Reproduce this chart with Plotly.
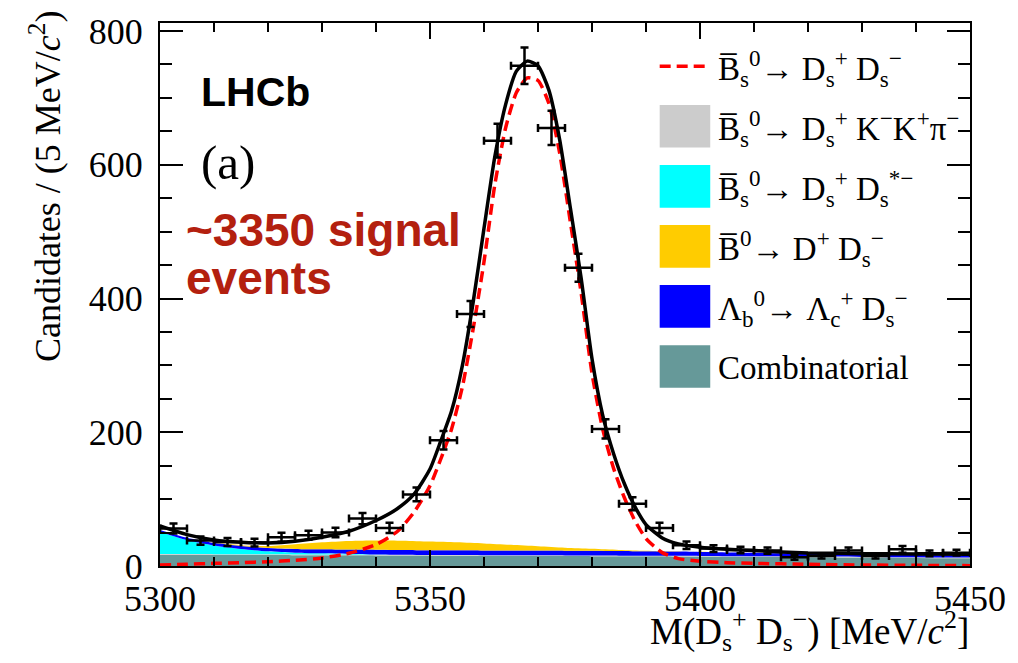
import numpy as np
import plotly.graph_objects as go

# ---- measured data: candidates per 5 MeV/c^2 bin ----
bin_centres = [5302.5, 5307.5, 5312.5, 5317.5, 5322.5, 5327.5, 5332.5, 5337.5, 5342.5, 5347.5,
               5352.5, 5357.5, 5362.5, 5367.5, 5372.5, 5377.5, 5382.5, 5387.5, 5392.5, 5397.5,
               5402.5, 5407.5, 5412.5, 5417.5, 5422.5, 5427.5, 5432.5, 5437.5, 5442.5, 5447.5]
counts = [56, 38, 36, 35, 43, 46, 50, 71, 57, 107,
          188, 377, 636, 748, 655, 446, 205, 93, 57, 31,
          26, 24, 23, 13, 15, 23, 15, 25, 19, 20]
half_bin = 2.5

# ---- fit projections ----
fit_mass = [5300, 5305, 5310, 5315, 5320, 5325, 5330, 5335, 5340, 5344, 5347, 5350, 5352, 5354,
            5356, 5358, 5360, 5362, 5364, 5366, 5368, 5370, 5372, 5374, 5376, 5378, 5380, 5382,
            5384, 5386, 5388, 5390, 5393, 5396, 5400, 5405, 5410, 5420, 5430, 5440, 5450]
fit_total = [60, 47, 39, 35.5, 34.5, 37, 43, 52, 68, 86, 107, 145, 187, 232,
             300, 395, 505, 612, 690, 740, 755, 748, 712, 638, 535, 430, 310, 225,
             168, 123, 88, 62, 42, 33, 28, 25, 23, 19.5, 18.5, 18, 17.5]
fit_signal = [1.5, 2.5, 4, 5, 6.5, 8.5, 12, 19, 32, 52, 80, 120, 160, 205,
              268, 355, 455, 570, 655, 708, 730, 726, 692, 618, 514, 408, 288, 204,
              146, 102, 67, 41, 20, 11, 7, 5, 4, 2.5, 1.5, 1, 0.5]

# background components (each component's own yield, stacked below)
bkg_mass = [5300, 5305, 5310, 5315, 5320, 5325, 5330, 5335, 5340, 5345, 5350, 5355, 5360,
            5365, 5370, 5375, 5380, 5385, 5390, 5395, 5400, 5410, 5420, 5430, 5440, 5450]
bkg_comb = [17.0, 16.9, 16.7, 16.5, 16.4, 16.2, 16.1, 16.0, 15.8, 15.7, 15.5, 15.4, 15.2,
            15.1, 15.0, 14.8, 14.7, 14.5, 14.4, 14.3, 14.1, 13.6, 13.1, 12.6, 12.1, 11.6]
bkg_dskkpi = [1.0, 1.0, 1.0, 1.0, 1.0, 1.0, 1.0, 1.0, 1.0, 1.0, 1.0, 1.0, 1.0,
              1.0, 1.0, 1.0, 1.0, 1.0, 1.0, 1.0, 1.0, 1.0, 1.0, 1.0, 1.0, 1.0]
bkg_dsstar = [33, 21, 13, 8, 4.5, 2.8, 1.8, 1.0, 0.5, 0.2, 0, 0, 0,
              0, 0, 0, 0, 0, 0, 0, 0, 0, 0, 0, 0, 0]
bkg_lambdab = [3.0, 3.5, 4.0, 4.5, 5.0, 5.5, 6.0, 6.5, 7.0, 7.0, 7.0, 7.0, 7.0,
               7.0, 7.0, 7.0, 7.0, 6.8, 6.5, 6.2, 6.0, 5.2, 4.4, 3.7, 3.2, 2.8]
bkg_bd = [0, 0, 0.3, 1.2, 3.0, 7.0, 10.5, 13.0, 14.0, 14.0, 13.0, 12.0, 10.5,
          8.5, 6.5, 4.5, 3.0, 1.8, 1.0, 0.5, 0.2, 0, 0, 0, 0, 0]

x_range = [5300, 5450]
y_range = [0, 812]
x_ticks = [5300, 5350, 5400, 5450]
y_ticks = [0, 200, 400, 600, 800]

SERIF = "Liberation Serif, Times New Roman, serif"
SANS = "Liberation Sans, Arial, sans-serif"

COL_COMB = "#669999"
COL_LB = "#0000ff"
COL_BD = "#ffcc00"
COL_DSSTAR = "#00ffff"
COL_DSKKPI = "#cccccc"
COL_TEXT = "#b3200f"

fig = go.Figure()

stack_parts = [
    (bkg_comb, COL_COMB),
    (bkg_dskkpi, COL_DSKKPI),
    (bkg_dsstar, COL_DSSTAR),
    (bkg_lambdab, COL_LB),
    (bkg_bd, COL_BD),
]
for vals, col in stack_parts:
    fig.add_trace(go.Scatter(
        x=bkg_mass, y=vals, mode="lines", stackgroup="bkg",
        line=dict(width=0, shape="spline", smoothing=0.8, color=col),
        fillcolor=col, showlegend=False, hoverinfo="skip"))

fig.add_trace(go.Scatter(
    x=fit_mass, y=fit_signal, mode="lines",
    line=dict(color="#ff0000", width=3.5, dash="11px,6px", shape="spline", smoothing=0.6),
    showlegend=False, hoverinfo="skip"))

fig.add_trace(go.Scatter(
    x=fit_mass, y=fit_total, mode="lines",
    line=dict(color="black", width=3.5, shape="spline", smoothing=0.6),
    showlegend=False, hoverinfo="skip"))

fig.add_trace(go.Scatter(
    x=bin_centres, y=counts, mode="markers",
    marker=dict(color="black", size=3),
    error_x=dict(type="constant", value=half_bin, color="black", thickness=2.5, width=4),
    error_y=dict(type="data", array=np.sqrt(counts), color="black", thickness=2.5, width=4),
    showlegend=False, hoverinfo="skip"))

# plot-area geometry (pixels) used to place the hand-built legend and labels
L, R, T, B = 160, 977, 19, 566
W, H = R - L, B - T


def px(x):
    return (x - L) / W


def py(y):
    return (B - y) / H


shapes = []
annotations = []

# legend
rows = [
    ("line", "#ff0000", "B\u0305<sub>s</sub><sup>0</sup>\u2192 D<sub>s</sub><sup>+</sup> D<sub>s</sub><sup>\u2212</sup>"),
    ("box", COL_DSKKPI, "B\u0305<sub>s</sub><sup>0</sup>\u2192 D<sub>s</sub><sup>+</sup> K<sup>\u2212</sup>K<sup>+</sup>\u03c0<sup>\u2212</sup>"),
    ("box", COL_DSSTAR, "B\u0305<sub>s</sub><sup>0</sup>\u2192 D<sub>s</sub><sup>+</sup> D<sub>s</sub><sup>*\u2212</sup>"),
    ("box", COL_BD, "B\u0305<sup>0</sup>\u2192 D<sup>+</sup> D<sub>s</sub><sup>\u2212</sup>"),
    ("box", COL_LB, "\u039b<sub>b</sub><sup>0</sup>\u2192 \u039b<sub>c</sub><sup>+</sup> D<sub>s</sub><sup>\u2212</sup>"),
    ("box", COL_COMB, "Combinatorial"),
]
row_y0, row_dy = 62.5, 60.5
for i, (kind, col, txt) in enumerate(rows):
    yc = row_y0 + i * row_dy
    if kind == "line":
        shapes.append(dict(type="line", xref="paper", yref="paper",
                           x0=px(664), x1=px(710), y0=py(yc), y1=py(yc),
                           line=dict(color=col, width=3.5, dash="11px,6px")))
    else:
        shapes.append(dict(type="rect", xref="paper", yref="paper",
                           x0=px(664), x1=px(715), y0=py(yc - 21.5), y1=py(yc + 21.5),
                           fillcolor=col, line=dict(width=0)))
    annotations.append(dict(xref="paper", yref="paper", x=px(721), y=py(yc + 2),
                            xanchor="left", yanchor="middle", showarrow=False,
                            text=txt, font=dict(family=SERIF, size=33, color="black")))

annotations += [
    dict(xref="paper", yref="paper", x=px(199), y=py(89), xanchor="left", yanchor="middle",
         showarrow=False, text="<b>LHCb</b>", font=dict(family=SANS, size=41, color="black")),
    dict(xref="paper", yref="paper", x=px(199), y=py(160), xanchor="left", yanchor="middle",
         showarrow=False, text="(a)", font=dict(family=SERIF, size=49, color="black")),
    dict(xref="paper", yref="paper", x=px(184), y=py(228), xanchor="left", yanchor="middle",
         showarrow=False, text="<b>~3350 signal</b>", font=dict(family=SANS, size=46, color=COL_TEXT)),
    dict(xref="paper", yref="paper", x=px(184), y=py(276), xanchor="left", yanchor="middle",
         showarrow=False, text="<b>events</b>", font=dict(family=SANS, size=46, color=COL_TEXT)),
    dict(xref="paper", yref="paper", x=px(978), y=py(660), xanchor="right", yanchor="bottom",
         showarrow=False,
         text="M(D<sub>s</sub><sup>+</sup> D<sub>s</sub><sup>\u2212</sup>) [MeV/<i>c</i><sup>2</sup>]",
         font=dict(family=SERIF, size=37, color="black")),
    dict(xref="paper", yref="paper", x=px(44), y=py(4), xanchor="center", yanchor="top",
         textangle=-90, showarrow=False,
         text="Candidates / (5 MeV/<i>c</i><sup>2</sup>)",
         font=dict(family=SERIF, size=36, color="black")),
]

axis_common = dict(showline=True, linecolor="black", linewidth=2, mirror="ticks",
                   ticks="inside", tickcolor="black", tickwidth=2, showgrid=False,
                   zeroline=False, tickfont=dict(family=SERIF, size=36, color="black"))

fig.update_layout(
    width=1018, height=663,
    margin=dict(l=L, r=1018 - R, t=T, b=663 - B),
    paper_bgcolor="white", plot_bgcolor="white",
    showlegend=False,
    shapes=shapes, annotations=annotations,
    xaxis=dict(range=x_range, tickvals=x_ticks, ticklen=16,
               minor=dict(ticks="inside", dtick=10, tick0=5300, ticklen=9,
                          tickwidth=2, tickcolor="black"),
               ticklabelstandoff=0, **axis_common),
    yaxis=dict(range=y_range, tickvals=y_ticks, ticklen=23,
               minor=dict(ticks="inside", dtick=50, tick0=0, ticklen=12,
                          tickwidth=2, tickcolor="black"),
               ticklabelstandoff=8, **axis_common),
)

fig.write_html("out.html")
